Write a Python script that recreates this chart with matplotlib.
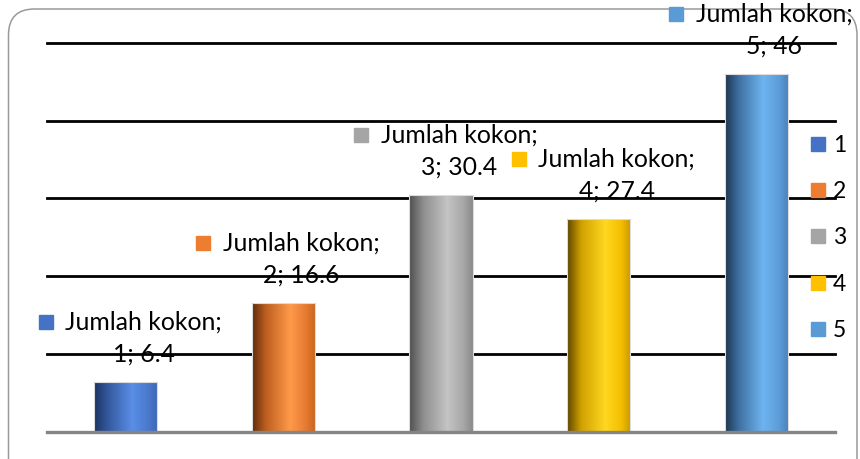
import numpy as np
import matplotlib
matplotlib.use("Agg")
import matplotlib.pyplot as plt
from matplotlib.colors import LinearSegmentedColormap
from matplotlib.patches import FancyBboxPatch
from matplotlib.lines import Line2D
from matplotlib.transforms import IdentityTransform, offset_copy

plt.rcParams['font.family'] = ['Lato', 'DejaVu Sans']

# data
categories = ["1", "2", "3", "4", "5"]
values = [6.4, 16.6, 30.4, 27.4, 46]
series_name = "Jumlah kokon"
base_colors = ["#4472C4", "#ED7D31", "#A5A5A5", "#FFC000", "#5B9BD5"]
# cylinder shading: dark edge, body, highlight, body, shaded edge
shades = [
    ["#1C3461", "#34599F", "#5B8EE6", "#4A78CC", "#3E68B4"],
    ["#5E2C0C", "#BF5F20", "#FF9A4A", "#E57A30", "#C8641E"],
    ["#4E4E4E", "#8E8E8E", "#C4C4C4", "#A8A8A8", "#8A8A8A"],
    ["#5E4600", "#D0A000", "#FFD820", "#F4BE00", "#C79800"],
    ["#1F3550", "#3F71A3", "#6EB4F0", "#5C9CD8", "#4A80B8"],
]

W, H, DPI = 860, 459, 100
fig = plt.figure(figsize=(W / DPI, H / DPI), dpi=DPI)

# rounded outer frame
frame = FancyBboxPatch((8.5, -30), 848.5, 459 - 9 + 30,
                       boxstyle="round,pad=0,rounding_size=26",
                       transform=IdentityTransform(), facecolor="white",
                       edgecolor="#9a9a9a", linewidth=1.1, zorder=-5)
fig.patches.append(frame)

x0, x1 = 47, 835
y_base, y_top = 432, 42.7
ax = fig.add_axes([x0 / W, (H - y_base) / H, (x1 - x0) / W, (y_base - y_top) / H])
ax.set_zorder(1)
ax.set_facecolor("none")
for s in ax.spines.values():
    s.set_visible(False)
ax.set_xticks([])
ax.set_yticks([])

# horizontal gridlines
for g in [10, 20, 30, 40, 50]:
    ax.axhline(g, color="black", linewidth=2.0, zorder=1, clip_on=False)

xs = np.arange(len(categories))
bars = ax.bar(xs, values, width=0.4, color=base_colors, edgecolor="#dcdcdc",
              linewidth=0.8, zorder=2)

# gradient fill clipped to each bar
grad = np.linspace(0, 1, 256).reshape(1, -1)
for bar, sh in zip(bars, shades):
    cmap = LinearSegmentedColormap.from_list(
        "cyl", list(zip([0.0, 0.22, 0.6, 0.85, 1.0], sh)))
    bx, by = bar.get_x(), bar.get_y()
    bw, bh = bar.get_width(), bar.get_height()
    im = ax.imshow(grad, cmap=cmap, aspect="auto",
                   extent=(bx, bx + bw, by, by + bh), zorder=2.5,
                   interpolation="bicubic")
    im.set_clip_path(bar)
    bar.set_facecolor("none")
    bar.set_zorder(3)

ax.set_xlim(-0.5, len(categories) - 0.5)
ax.set_ylim(0, 50)

# baseline
ax.axhline(0, color="#858585", linewidth=2.4, zorder=4, clip_on=False)

# data labels
fs = 17.8
for xi, v, cat, col in zip(xs, values, categories, base_colors):
    ax.text(xi, v, f"{series_name};", fontsize=fs, ha="center", va="center",
            transform=offset_copy(ax.transData, fig, x=18, y=60, units="dots"),
            zorder=5, color="black", clip_on=False)
    ax.text(xi, v, f"{cat}; {v:g}", fontsize=fs, ha="center", va="center",
            transform=offset_copy(ax.transData, fig, x=18, y=28, units="dots"),
            zorder=5, color="black", clip_on=False)
    ax.plot([xi], [v], marker="s", markersize=10, color=col, linestyle="none",
            transform=offset_copy(ax.transData, fig, x=-80, y=60, units="dots"),
            clip_on=False, zorder=5)

# legend
handles = [Line2D([], [], marker="s", linestyle="none", markersize=10.5,
                  color=c) for c in base_colors]
leg = fig.legend(handles, categories, loc="center left",
                 bbox_to_anchor=(809 / W, (H - 238) / H), frameon=False,
                 fontsize=16.5, handlelength=0.75, handletextpad=0.3,
                 labelspacing=1.1, borderpad=0, borderaxespad=0)
leg.set_zorder(10)

fig.savefig("out.png", dpi=DPI)
